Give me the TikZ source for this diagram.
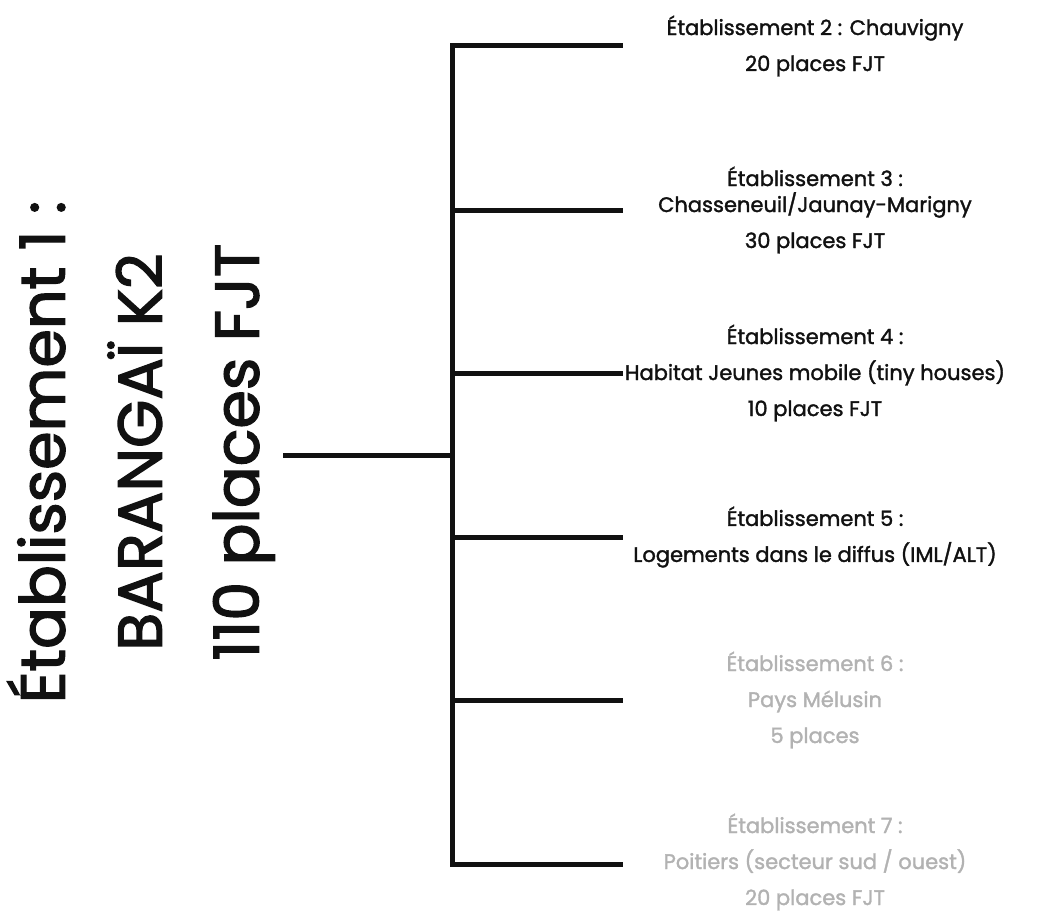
\documentclass[tikz,border=0pt]{standalone}
\usepackage{fontspec}
\setmainfont{Poppins}
\newfontfamily\mediumfont{Poppins}[FakeBold=1.6]
\newfontfamily\titlefont{Poppins}[FakeBold=2.2]
\usepackage{tikz}
\usetikzlibrary{positioning}
\definecolor{ink}{HTML}{111111}
\definecolor{fade}{HTML}{B2B2B2}
\tikzset{branch/.style={line width=5pt, ink, line cap=rect}}
\tikzset{site/.style={align=center, font=\fontsize{21}{36}\selectfont\mediumfont, text=ink, inner sep=0pt}}
\tikzset{faded/.style={site, text=fade}}
\begin{document}
\begin{tikzpicture}[x=1pt,y=-1pt]
\useasboundingbox (0,0) rectangle (1040,911);
\node[rotate=90, align=center, font=\fontsize{62}{97}\selectfont\titlefont, text=ink, inner sep=0pt] (root) at (141,452)
  {Établissement 1 :\\ BARANGAÏ K2\\ 110 places FJT};
\coordinate (hub) at (452,455);
\coordinate (top) at (452,45);
\coordinate (bot) at (452,864);
\draw[branch] ([xshift=10pt]root.south |- hub) -- (hub);
\draw[branch] (top) -- (bot);
\foreach \n/\y in {2/45,3/210,4/373,5/537,6/700,7/864} {
\coordinate (b\n) at (620,\y);
\draw[branch] (hub |- b\n) -- (b\n);
}
\node[site] (e2) at (815,46) {Établissement 2 : Chauvigny\\ 20 places FJT};
\node[site] (e3) at (815,210) {Établissement 3 :\\[-10pt] Chasseneuil/Jaunay-Marigny\\ 30 places FJT};
\node[site] (e4) at (815,373) {Établissement 4 :\\ Habitat Jeunes mobile (tiny houses)\\ 10 places FJT};
\node[site] (e5) at (815,537) {Établissement 5 :\\ Logements dans le diffus (IML/ALT)};
\node[faded] (e6) at (815,700) {Établissement 6 :\\ Pays Mélusin\\ 5 places};
\node[faded] (e7) at (815,862) {Établissement 7 :\\ Poitiers (secteur sud / ouest)\\ 20 places FJT};
\end{tikzpicture}
\end{document}
